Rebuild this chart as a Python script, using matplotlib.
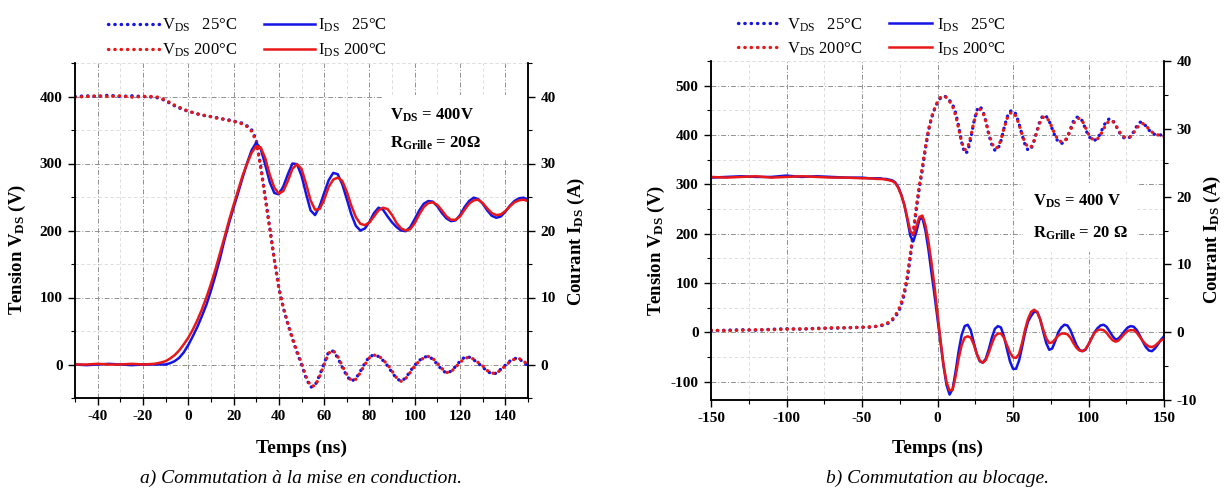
import matplotlib
matplotlib.use("Agg")
import matplotlib.pyplot as plt
from matplotlib.ticker import MultipleLocator
from matplotlib.patches import Rectangle

plt.rcParams['font.family'] = ['Liberation Serif', 'DejaVu Serif']
plt.rcParams['mathtext.fontset'] = 'custom'
plt.rcParams['mathtext.rm'] = 'Liberation Serif'
plt.rcParams['mathtext.it'] = 'Liberation Serif:italic'
plt.rcParams['mathtext.bf'] = 'Liberation Serif:bold'
plt.rcParams['axes.unicode_minus'] = False

# ---------------- data : a) mise en conduction ----------------
t_a = [-50, -45, -40, -35, -30, -25, -20, -15, -12,
       -10, -8, -6, -4, -2, 0, 2, 4, 6, 8,
       10, 12, 14, 16, 18, 20, 22, 24, 26, 28,
       30, 32, 34, 36, 38, 40, 42, 44, 46, 48,
       50, 52, 54, 56, 58, 60, 62, 64, 66, 68,
       70, 72, 74, 76, 78, 80, 82, 84, 86, 88,
       90, 92, 94, 96, 98, 100, 102, 104, 106, 108,
       110, 112, 114, 116, 118, 120, 122, 124, 126, 128,
       130, 132, 134, 136, 138, 140, 142, 144, 146, 148,
       150]
vds_a_25 = [400, 401, 400, 402, 400, 401, 400, 399, 397,
            393, 390, 386, 383, 380, 378, 376, 374, 372, 371,
            370, 369, 367, 366, 365, 363, 362, 360, 356, 350,
            336, 296, 250, 204, 157, 114, 84, 60, 38, 18,
            0, -20, -34, -31, -16, 2, 19, 20, 10, -4,
            -17, -25, -21, -10, 2, 12, 14, 12, 6, -2,
            -12, -21, -25, -20, -10, -1, 6, 11, 12, 8,
            0, -8, -13, -10, -3, 5, 11, 11, 7, 2,
            -4, -10, -14, -13, -7, -1, 5, 9, 9, 3,
            -2]
vds_a_200 = [399, 400, 401, 400, 401, 399, 400, 400, 398,
             394, 391, 387, 384, 381, 378, 376, 374, 373, 371,
             370, 368, 367, 366, 364, 363, 361, 359, 355, 348,
             333, 293, 248, 202, 156, 114, 85, 61, 40, 20,
             2, -18, -32, -32, -18, 0, 17, 21, 12, -2,
             -15, -24, -22, -12, 0, 10, 14, 13, 7, 0,
             -10, -20, -25, -21, -12, -2, 5, 10, 12, 9,
             2, -6, -12, -11, -4, 3, 9, 11, 8, 3,
             -2, -9, -13, -13, -8, -2, 4, 8, 9, 5,
             0]
ids_a_25 = [0, -0.1, 0, 0.1, 0, -0.1, 0, 0, 0,
            0, 0.2, 0.5, 1.0, 1.8, 2.9, 4.2, 5.6, 7.2, 8.9,
            11.0, 13.3, 15.8, 18.6, 21.1, 23.4, 25.6, 27.9, 30.1, 32.0,
            33.1, 32.2, 29.8, 27.2, 25.6, 25.4, 26.6, 28.4, 30.0, 29.9,
            28.2, 25.5, 23.0, 22.3, 23.6, 25.6, 27.5, 28.6, 28.4, 26.9,
            24.7, 22.4, 20.7, 20.0, 20.3, 21.3, 22.6, 23.4, 23.1, 22.1,
            21.2, 20.5, 20.0, 19.9, 20.5, 21.7, 23.0, 24.0, 24.4, 24.3,
            23.6, 22.6, 21.8, 21.4, 21.5, 22.3, 23.5, 24.4, 24.9, 24.7,
            24.0, 23.0, 22.2, 21.9, 22.1, 22.8, 23.7, 24.4, 24.8, 24.9,
            24.6]
ids_a_200 = [0, 0, 0.1, 0, 0, 0.1, 0, 0.1, 0.3,
             0.5, 0.9, 1.4, 2.1, 3.0, 4.0, 5.2, 6.6, 8.2, 10.0,
             12.0, 14.2, 16.6, 19.0, 21.5, 23.8, 26.0, 28.2, 30.0, 31.6,
             32.6, 32.4, 30.8, 28.3, 26.4, 25.5, 25.9, 27.4, 29.2, 29.9,
             29.2, 27.0, 24.5, 23.1, 23.2, 24.6, 26.5, 27.6, 27.9, 27.4,
             25.8, 23.7, 22.0, 21.0, 20.8, 21.2, 22.1, 23.0, 23.4, 23.2,
             22.3, 21.1, 20.3, 20.0, 20.2, 21.1, 22.4, 23.5, 24.1, 24.2,
             23.8, 23.0, 22.1, 21.6, 21.6, 22.1, 23.1, 24.0, 24.5, 24.6,
             24.1, 23.3, 22.6, 22.3, 22.4, 22.9, 23.6, 24.2, 24.5, 24.6,
             24.4]

# ---------------- data : b) blocage ----------------
t_b = [-150, -140, -130, -120, -110, -100, -90, -80, -70, -60, -50, -45, -40,
       -38, -36, -34, -32, -30, -28, -26, -24, -22, -20,
       -18, -16, -14, -12, -10, -8, -6, -4, -2, 0,
       2, 4, 6, 8, 10, 12, 14, 16, 18, 20,
       22, 24, 26, 28, 30, 32, 34, 36, 38, 40,
       42, 44, 46, 48, 50, 52, 54, 56, 58, 60,
       62, 64, 66, 68, 70, 72, 74, 76, 78, 80,
       82, 84, 86, 88, 90, 92, 94, 96, 98, 100,
       102, 104, 106, 108, 110, 112, 114, 116, 118, 120,
       122, 124, 126, 128, 130, 132, 134, 136, 138, 140,
       142, 144, 146, 148, 150]
vds_b_25 = [3, 4, 5, 4, 6, 7, 6, 8, 8, 9, 10, 10, 12,
            13, 14, 16, 19, 24, 31, 40, 55, 77, 108,
            152, 200, 250, 293, 330, 372, 408, 434, 452, 466,
            475, 479, 477, 470, 462, 445, 418, 385, 363, 366,
            392, 425, 450, 458, 450, 428, 400, 380, 369, 371,
            388, 413, 436, 448, 450, 442, 423, 400, 380, 369,
            372, 388, 410, 430, 440, 438, 428, 412, 396, 386,
            383, 384, 395, 412, 428, 436, 436, 428, 412, 398,
            391, 389, 393, 404, 418, 429, 433, 430, 420, 407,
            398, 393, 393, 397, 407, 418, 426, 425, 418, 410,
            404, 401, 400, 400, 398]
vds_b_200 = [4, 3, 4, 5, 5, 6, 7, 7, 9, 9, 10, 11, 12,
             14, 15, 17, 21, 26, 34, 44, 60, 83, 114,
             158, 206, 255, 298, 336, 376, 410, 436, 453, 467,
             476, 479, 476, 468, 458, 440, 413, 385, 370, 374,
             397, 425, 446, 452, 446, 428, 403, 383, 373, 375,
             390, 413, 433, 444, 446, 438, 421, 401, 384, 375,
             376, 389, 408, 426, 436, 436, 428, 414, 400, 390,
             386, 387, 395, 409, 423, 432, 434, 428, 415, 402,
             393, 390, 392, 400, 412, 423, 429, 428, 420, 409,
             400, 395, 394, 397, 405, 414, 421, 423, 419, 412,
             406, 402, 400, 399, 397]
ids_b_25 = [22.8, 22.9, 23.0, 22.9, 22.9, 23.1, 22.9, 23.0, 22.9, 22.8, 22.8, 22.7, 22.7,
            22.7, 22.6, 22.6, 22.5, 22.4, 22.1, 21.4, 20.3, 18.8, 16.6,
            14.2, 13.4, 14.8, 16.6, 16.9, 15.0, 12.2, 8.8, 5.5, 2.0,
            -1.5, -5.0, -7.8, -9.2, -8.4, -5.8, -2.8, -0.4, 0.9, 1.1,
            0.3, -1.5, -3.2, -4.3, -4.5, -3.9, -2.5, -0.8, 0.5, 0.9,
            0.7, -0.6, -2.5, -4.3, -5.4, -5.4, -4.2, -2.2, 0.0, 1.6,
            2.4, 3.0, 3.0, 1.9, 0.1, -1.6, -2.6, -2.4, -1.3, 0.0,
            0.7, 1.1, 1.0, 0.3, -0.8, -1.9, -2.6, -2.8, -2.6, -1.8,
            -0.9, 0.0, 0.6, 1.0, 1.1, 0.8, 0.1, -0.6, -1.1, -0.9,
            -0.4, 0.2, 0.7, 0.9, 0.8, 0.3, -0.5, -1.4, -2.2, -2.7,
            -2.8, -2.4, -1.8, -1.1, -0.6]
ids_b_200 = [22.9, 22.8, 22.9, 23.0, 22.8, 22.9, 23.0, 22.9, 22.8, 22.8, 22.7, 22.7, 22.6,
             22.6, 22.6, 22.5, 22.4, 22.3, 22.0, 21.3, 20.2, 18.8, 16.9,
             14.9, 14.4, 15.6, 17.0, 17.2, 15.8, 13.4, 10.3, 6.8, 2.8,
             -1.2, -4.8, -7.4, -8.6, -8.5, -6.5, -3.9, -1.9, -0.8, -0.6,
             -0.8, -1.8, -3.2, -4.2, -4.5, -4.1, -3.0, -1.7, -0.6, -0.2,
             -0.2, -0.8, -1.9, -3.0, -3.7, -3.8, -3.2, -1.6, 0.4, 2.0,
             3.0, 3.3, 3.0, 1.9, 0.4, -0.9, -1.6, -1.5, -1.0, -0.5,
             -0.2, -0.2, -0.3, -0.8, -1.6, -2.3, -2.7, -2.8, -2.5, -1.8,
             -0.9, -0.1, 0.3, 0.4, 0.3, -0.1, -0.7, -1.2, -1.4, -1.2,
             -0.7, -0.2, 0.2, 0.3, 0.3, -0.1, -0.7, -1.3, -1.8, -2.1,
             -2.2, -2.0, -1.6, -1.2, -1.0]

legend_labels = ["V$_\\mathregular{DS}$   25°C", "V$_\\mathregular{DS}$ 200°C",
                 "I$_\\mathregular{DS}$   25°C", "I$_\\mathregular{DS}$ 200°C"]
captions = ["a) Commutation à la mise en conduction.", "b) Commutation au blocage."]

BLUE = '#1414e6'
RED = '#e81818'
W, H = 1229, 491

fig = plt.figure(figsize=(W / 100, H / 100), dpi=100)


def px(x0, y_top, x1, y_bot):
    return [x0 / W, 1 - y_bot / H, (x1 - x0) / W, (y_bot - y_top) / H]


def style_axes(ax, ax2):
    for a in (ax, ax2):
        a.spines['top'].set_visible(False)
        for s in a.spines.values():
            s.set_linewidth(1.1)
        a.tick_params(which='major', direction='out', length=5, width=1.0,
                      labelsize=11, pad=4)
        a.tick_params(which='minor', direction='out', length=3, width=0.8)
        for lab in a.get_xticklabels() + a.get_yticklabels():
            lab.set_fontweight('bold')
    ax.set_axisbelow(True)
    ax.grid(which='major', ls=(0, (5, 2, 1, 2)), color='#909090', lw=0.7)
    ax.grid(which='minor', ls=(0, (4, 3)), color='#d8d8d8', lw=0.6)


dot = (0, (0.1, 1.8))
DOT_KW = dict(lw=2.4, ls=dot, dash_capstyle='round')

# ---------------- panel a ----------------
axA = fig.add_axes(px(75, 63, 528, 398))
axA2 = axA.twinx()
l1, = axA.plot(t_a, vds_a_25, color=BLUE, **DOT_KW)
l2, = axA.plot(t_a, vds_a_200, color=RED, **DOT_KW)
l3, = axA2.plot(t_a, ids_a_25, color=BLUE, lw=1.8)
l4, = axA2.plot(t_a, ids_a_200, color=RED, lw=1.8)
axA.set_xlim(-50, 150)
axA.set_ylim(-50, 450)
axA2.set_ylim(-5, 45)
axA.set_xticks([-40, -20, 0, 20, 40, 60, 80, 100, 120, 140])
axA.xaxis.set_minor_locator(MultipleLocator(10))
axA.set_yticks([0, 100, 200, 300, 400])
axA.yaxis.set_minor_locator(MultipleLocator(50))
axA2.set_yticks([0, 10, 20, 30, 40])
axA2.yaxis.set_minor_locator(MultipleLocator(5))
style_axes(axA, axA2)
axA.add_patch(Rectangle((0.678, 0.71), 0.322, 0.195, transform=axA.transAxes,
                        facecolor='white', edgecolor='none', zorder=1))
axA.text(89, 372, "V$_\\mathregular{DS}$ = 400V", fontsize=12, fontweight='bold',
         ha='left', va='center', zorder=3)
axA.text(89, 330, "R$_\\mathregular{Grille}$ = 20Ω", fontsize=12, fontweight='bold',
         ha='left', va='center', zorder=3)
fig.legend([l1, l2, l3, l4], legend_labels, loc='center', bbox_to_anchor=(247 / W, 1 - 38 / H),
           ncol=2, frameon=False, fontsize=12, handlelength=3.1, handletextpad=0.15,
           columnspacing=1.6, labelspacing=0.45)
fig.text(17 / W, 1 - 249 / H, "Tension V$_\\mathregular{DS}$ (V)", rotation=90, ha='center',
         va='center', fontsize=13.5, fontweight='bold')
fig.text(576 / W, 1 - 242 / H, "Courant I$_\\mathregular{DS}$ (A)", rotation=90, ha='center',
         va='center', fontsize=13.5, fontweight='bold')
fig.text(301 / W, 1 - 448 / H, "Temps (ns)", ha='center', va='center', fontsize=14,
         fontweight='bold')
fig.text(301 / W, 1 - 478 / H, captions[0], ha='center', va='center', fontsize=14,
         style='italic')

# ---------------- panel b ----------------
axB = fig.add_axes(px(711, 61, 1164, 400))
axB2 = axB.twinx()
m1, = axB.plot(t_b, vds_b_25, color=BLUE, **DOT_KW)
m2, = axB.plot(t_b, vds_b_200, color=RED, **DOT_KW)
m3, = axB2.plot(t_b, ids_b_25, color=BLUE, lw=1.8)
m4, = axB2.plot(t_b, ids_b_200, color=RED, lw=1.8)
axB.set_xlim(-150, 150)
axB.set_ylim(-137.5, 550)
axB2.set_ylim(-10, 40)
axB.set_xticks([-150, -100, -50, 0, 50, 100, 150])
axB.xaxis.set_minor_locator(MultipleLocator(25))
axB.set_yticks([-100, 0, 100, 200, 300, 400, 500])
axB.yaxis.set_minor_locator(MultipleLocator(50))
axB2.set_yticks([-10, 0, 10, 20, 30, 40])
axB2.yaxis.set_minor_locator(MultipleLocator(5))
style_axes(axB, axB2)
axB.add_patch(Rectangle((0.689, 0.437), 0.251, 0.203, transform=axB.transAxes,
                        facecolor='white', edgecolor='none', zorder=1))
axB.text(63, 265, "V$_\\mathregular{DS}$ = 400 V", fontsize=12, fontweight='bold',
         ha='left', va='center', zorder=3)
axB.text(63, 201, "R$_\\mathregular{Grille}$ = 20 Ω", fontsize=12, fontweight='bold',
         ha='left', va='center', zorder=3)
fig.legend([m1, m2, m3, m4], legend_labels, loc='center', bbox_to_anchor=(872 / W, 1 - 37 / H),
           ncol=2, frameon=False, fontsize=12, handlelength=2.6, handletextpad=0.3,
           columnspacing=1.6, labelspacing=0.4)
fig.text(656 / W, 1 - 250 / H, "Tension V$_\\mathregular{DS}$ (V)", rotation=90, ha='center',
         va='center', fontsize=13.5, fontweight='bold')
fig.text(1212 / W, 1 - 240 / H, "Courant I$_\\mathregular{DS}$ (A)", rotation=90, ha='center',
         va='center', fontsize=13.5, fontweight='bold')
fig.text(937 / W, 1 - 448 / H, "Temps (ns)", ha='center', va='center', fontsize=14,
         fontweight='bold')
fig.text(937 / W, 1 - 478 / H, captions[1], ha='center', va='center', fontsize=14,
         style='italic')

fig.savefig("out.png", dpi=100)
